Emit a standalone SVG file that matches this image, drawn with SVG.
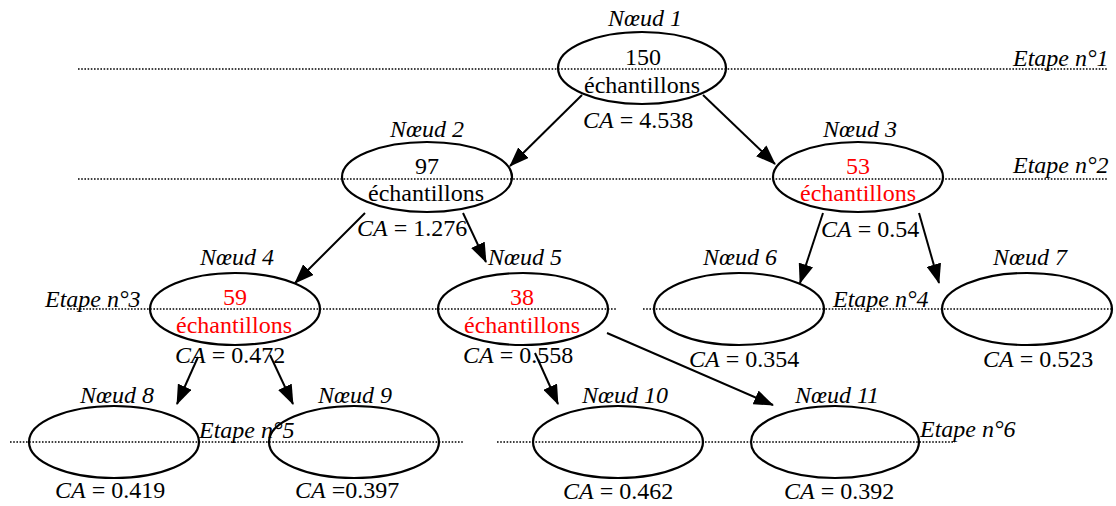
<svg xmlns="http://www.w3.org/2000/svg" width="1116" height="506" viewBox="0 0 1116 506" font-family="'Liberation Serif', Tinos, 'DejaVu Serif', 'Noto Serif', serif">
<style>
text{font-family:'Liberation Serif', Tinos, 'DejaVu Serif', 'Noto Serif', serif;font-size:24px;fill:#000}
.i{font-style:italic}
.m{text-anchor:middle}
.r{fill:#ff0000}
.n{fill:none;stroke:#000;stroke-width:2.2}
.d{stroke:#000;stroke-width:1.6;stroke-dasharray:1.6 1.6}
.c{stroke:#000;stroke-width:2;fill:none;marker-end:url(#ah)}
</style>
<defs>
<marker id="ah" viewBox="0 0 20 15" refX="19" refY="7.5" markerWidth="20" markerHeight="15" markerUnits="userSpaceOnUse" orient="auto">
<path d="M0,0 L20,7.5 L0,15 z" fill="#000"/>
</marker>
</defs>
<rect width="1116" height="506" fill="#fff"/>
<g id="stages">
<line class="d" x1="78" y1="69" x2="1108" y2="69"/>
<line class="d" x1="78" y1="179" x2="1108" y2="179"/>
<line class="d" x1="67" y1="309" x2="617" y2="309"/>
<line class="d" x1="643" y1="309" x2="1113" y2="309"/>
<line class="d" x1="10" y1="442" x2="464" y2="442"/>
<line class="d" x1="497" y1="442" x2="955" y2="442"/>
<text class="i" x="1013" y="66">Etape n°1</text>
<text class="i" x="1013" y="173">Etape n°2</text>
<text class="i" x="45" y="307">Etape n°3</text>
<text class="i" x="833" y="307">Etape n°4</text>
<text class="i" x="199" y="438">Etape n°5</text>
<text class="i" x="920" y="437">Etape n°6</text>
</g>
<g id="connectors">
<line class="c" x1="582" y1="95" x2="510" y2="166"/>
<line class="c" x1="703" y1="95" x2="775" y2="164"/>
<line class="c" x1="365" y1="213" x2="295" y2="283"/>
<line class="c" x1="463" y1="213" x2="486" y2="262"/>
<line class="c" x1="823" y1="213" x2="800" y2="283"/>
<line class="c" x1="919" y1="213" x2="939" y2="283"/>
<line class="c" x1="198" y1="357" x2="177" y2="404"/>
<line class="c" x1="270" y1="355" x2="293" y2="404"/>
<line class="c" x1="535" y1="353" x2="558" y2="404"/>
<line class="c" x1="607" y1="333" x2="773" y2="405"/>
</g>
<g id="node1">
<ellipse class="n" cx="642" cy="68" rx="84" ry="36"/>
<text class="i m" x="645" y="26">Nœud 1</text>
<text class="m" x="643" y="65">150</text>
<text class="m" x="642" y="93">échantillons</text>
<text x="583" y="128"><tspan class="i">CA</tspan> = 4.538</text>
</g>
<g id="node2">
<ellipse class="n" cx="427" cy="177" rx="85" ry="35"/>
<text class="i m" x="427" y="137">Nœud 2</text>
<text class="m" x="427" y="174">97</text>
<text class="m" x="426" y="201">échantillons</text>
<text x="357" y="236"><tspan class="i">CA</tspan> = 1.276</text>
</g>
<g id="node3">
<ellipse class="n" cx="858" cy="177" rx="85" ry="35"/>
<text class="i m" x="860" y="137">Nœud 3</text>
<text class="m r" x="858" y="174">53</text>
<text class="m r" x="858" y="201">échantillons</text>
<text x="821" y="237"><tspan class="i">CA</tspan> = 0.54</text>
</g>
<g id="node4">
<ellipse class="n" cx="235" cy="309" rx="85" ry="36"/>
<text class="i m" x="237" y="265">Nœud 4</text>
<text class="m r" x="235" y="305">59</text>
<text class="m r" x="234" y="333">échantillons</text>
<text x="175" y="363"><tspan class="i">CA</tspan> = 0.472</text>
</g>
<g id="node5">
<ellipse class="n" cx="523" cy="309" rx="85" ry="36"/>
<text class="i" x="488" y="265">Nœud 5</text>
<text class="m r" x="522" y="305">38</text>
<text class="m r" x="522" y="333">échantillons</text>
<text x="463" y="363"><tspan class="i">CA</tspan> = 0.558</text>
</g>
<g id="node6">
<ellipse class="n" cx="739" cy="309" rx="85" ry="36"/>
<text class="i m" x="740" y="265">Nœud 6</text>
<text x="689" y="367"><tspan class="i">CA</tspan> = 0.354</text>
</g>
<g id="node7">
<ellipse class="n" cx="1027" cy="309" rx="85" ry="36"/>
<text class="i m" x="1030" y="265">Nœud 7</text>
<text x="983" y="367"><tspan class="i">CA</tspan> = 0.523</text>
</g>
<g id="node8">
<ellipse class="n" cx="114" cy="442" rx="85" ry="36"/>
<text class="i m" x="117" y="403">Nœud 8</text>
<text x="55" y="498"><tspan class="i">CA</tspan> = 0.419</text>
</g>
<g id="node9">
<ellipse class="n" cx="354" cy="442" rx="85" ry="36"/>
<text class="i m" x="355" y="403">Nœud 9</text>
<text x="295" y="498"><tspan class="i">CA</tspan> =0.397</text>
</g>
<g id="node10">
<ellipse class="n" cx="618" cy="442" rx="85" ry="36"/>
<text class="i m" x="625" y="403">Nœud 10</text>
<text x="563" y="499"><tspan class="i">CA</tspan> = 0.462</text>
</g>
<g id="node11">
<ellipse class="n" cx="835" cy="442" rx="84" ry="36"/>
<text class="i m" x="837" y="403">Nœud 11</text>
<text x="784" y="499"><tspan class="i">CA</tspan> = 0.392</text>
</g>
</svg>
